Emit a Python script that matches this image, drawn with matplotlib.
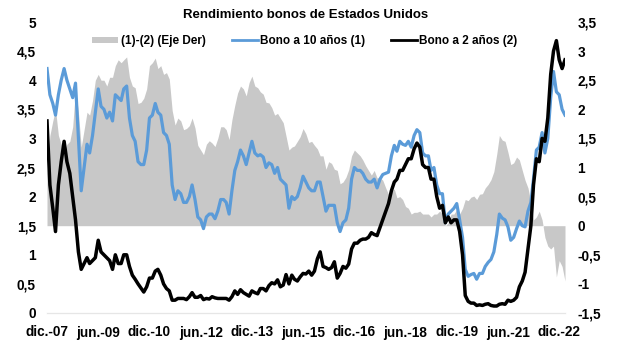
import numpy as np
import pandas as pd
import matplotlib
matplotlib.use("Agg")
import matplotlib.pyplot as plt
from matplotlib.patches import Patch
from matplotlib.lines import Line2D

plt.rcParams['font.family'] = ['Liberation Sans', 'DejaVu Sans']

# monthly readings, dic.-07 .. feb.-23
dates = pd.date_range("2007-12-01", periods=183, freq="MS")

bono_10 = [
    4.20,
    3.75, 3.60, 3.40, 3.75, 4.00, 4.20, 4.00, 3.85, 3.70, 3.95, 3.00, 2.10,
    2.50, 2.90, 2.75, 3.05, 3.45, 3.85, 3.55, 3.50, 3.35, 3.45, 3.30, 3.75,
    3.70, 3.65, 3.85, 3.90, 3.35, 3.05, 2.95, 2.60, 2.55, 2.55, 2.80, 3.35,
    3.40, 3.60, 3.45, 3.40, 3.10, 3.05, 2.90, 2.20, 1.95, 2.10, 2.05, 1.90,
    1.90, 2.00, 2.20, 1.95, 1.65, 1.60, 1.45, 1.65, 1.70, 1.70, 1.62, 1.75,
    1.95, 1.95, 1.90, 1.70, 2.10, 2.45, 2.60, 2.80, 2.70, 2.55, 2.75, 2.95,
    2.75, 2.70, 2.72, 2.68, 2.50, 2.58, 2.55, 2.40, 2.50, 2.30, 2.25, 2.20,
    1.80, 2.00, 1.95, 2.00, 2.15, 2.35, 2.25, 2.15, 2.10, 2.10, 2.25, 2.25,
    2.00, 1.75, 1.85, 1.85, 1.85, 1.55, 1.40, 1.55, 1.60, 1.80, 2.30, 2.50,
    2.45, 2.45, 2.40, 2.30, 2.25, 2.25, 2.30, 2.15, 2.30, 2.38, 2.40, 2.42,
    2.70, 2.88, 2.78, 2.95, 2.90, 2.88, 2.95, 2.85, 3.05, 3.15, 3.10, 2.75,
    2.70, 2.70, 2.45, 2.50, 2.20, 2.05, 2.05, 1.55, 1.70, 1.75, 1.80, 1.88,
    1.60, 1.30, 0.75, 0.63, 0.66, 0.68, 0.58, 0.68, 0.68, 0.80, 0.87, 0.92,
    1.05, 1.35, 1.70, 1.63, 1.60, 1.48, 1.25, 1.30, 1.45, 1.58, 1.50, 1.48,
    1.75, 1.90, 2.30, 2.80, 2.85, 3.10, 2.75, 3.00, 3.70, 4.15, 3.80, 3.75,
    3.50, 3.40,
]

bono_2 = [
    3.30,
    2.20, 1.80, 1.40, 2.20, 2.60, 2.95, 2.60, 2.40, 2.00, 1.60, 1.05, 0.75,
    0.85, 0.95, 0.85, 0.90, 0.95, 1.25, 1.05, 1.00, 0.95, 0.90, 0.75, 1.00,
    0.85, 0.85, 1.00, 1.00, 0.80, 0.65, 0.58, 0.50, 0.43, 0.36, 0.45, 0.60,
    0.60, 0.72, 0.75, 0.65, 0.50, 0.42, 0.38, 0.22, 0.22, 0.25, 0.25, 0.25,
    0.23, 0.28, 0.35, 0.27, 0.27, 0.30, 0.23, 0.25, 0.24, 0.28, 0.26, 0.25,
    0.25, 0.25, 0.25, 0.22, 0.28, 0.38, 0.32, 0.40, 0.35, 0.32, 0.29, 0.38,
    0.35, 0.33, 0.42, 0.42, 0.38, 0.47, 0.52, 0.50, 0.57, 0.45, 0.48, 0.66,
    0.50, 0.65, 0.58, 0.55, 0.62, 0.68, 0.67, 0.72, 0.65, 0.72, 0.93, 1.05,
    0.80, 0.78, 0.75, 0.78, 0.88, 0.60, 0.68, 0.80, 0.77, 0.84, 1.10, 1.20,
    1.20, 1.25, 1.27, 1.27, 1.30, 1.38, 1.35, 1.33, 1.47, 1.60, 1.75, 1.88,
    2.10, 2.25, 2.30, 2.45, 2.45, 2.55, 2.65, 2.65, 2.82, 2.92, 2.85, 2.55,
    2.50, 2.50, 2.30, 2.30, 2.00, 1.80, 1.85, 1.55, 1.65, 1.55, 1.60, 1.60,
    1.40, 1.00, 0.30, 0.20, 0.17, 0.17, 0.13, 0.14, 0.13, 0.15, 0.16, 0.13,
    0.12, 0.12, 0.15, 0.16, 0.15, 0.22, 0.20, 0.22, 0.27, 0.45, 0.55, 0.70,
    1.10, 1.50, 2.20, 2.65, 2.60, 3.00, 2.95, 3.35, 4.10, 4.50, 4.68, 4.35,
    4.20, 4.35,
]

tick_labels = ["dic.-07", "jun.-09", "dic.-10", "jun.-12", "dic.-13", "jun.-15",
               "dic.-16", "jun.-18", "dic.-19", "jun.-21", "dic.-22"]
tick_dates = pd.date_range("2007-12-01", periods=len(tick_labels), freq="18MS")

left_ticks = np.arange(0, 5.01, 0.5)
right_ticks = np.arange(-1.5, 3.51, 0.5)

diferencial = np.array(bono_10) - np.array(bono_2)

BLUE = "#5b9bd8"
GRAY = "#c8c8c8"


def fmt(v):
    s = f"{v:g}"
    return s.replace(".", ",")


fig = plt.figure(figsize=(6.17, 3.6), dpi=100)
ax = fig.add_axes([47 / 617, 1 - 313 / 360, (565 - 47) / 617, (313 - 22) / 360])
ax2 = ax.twinx()

# spread on right axis, drawn behind the lines
ax2.fill_between(dates, 0, diferencial, color=GRAY, linewidth=0)
ax2.set_ylim(-1.5, 3.5)
ax2.set_yticks(right_ticks)
ax2.set_yticklabels([fmt(v) for v in right_ticks])

ax.plot(dates, bono_10, color=BLUE, lw=2.3)
ax.plot(dates, bono_2, color="black", lw=2.5)
ax.set_ylim(0, 5)
ax.set_yticks(left_ticks)
ax.set_yticklabels([fmt(v) for v in left_ticks])
ax.set_xlim(dates[0], dates[-1])
ax.set_xticks(tick_dates)
ax.set_xticklabels(tick_labels)

ax.set_zorder(ax2.get_zorder() + 1)
ax.patch.set_visible(False)

for a in (ax, ax2):
    for side in ("top", "left", "right"):
        a.spines[side].set_visible(False)
    a.spines["bottom"].set_color("#e6e6e6")
    a.spines["bottom"].set_linewidth(0.8)
    a.tick_params(length=0, labelsize=9.8)
    for lab in a.get_yticklabels() + a.get_xticklabels():
        lab.set_fontweight("bold")

ax.tick_params(axis="y", pad=8)
ax.tick_params(axis="x", pad=9)
ax2.tick_params(axis="y", pad=9)

handles = [
    Patch(facecolor=GRAY, edgecolor="none"),
    Line2D([], [], color=BLUE, lw=2.0),
    Line2D([], [], color="black", lw=2.0),
]
labels = ["(1)-(2) (Eje Der)", "Bono a 10 años (1)", "Bono a 2 años (2)"]
leg = ax.legend(handles, labels, ncol=3, frameon=False, loc="center",
                bbox_to_anchor=(305 / 617, 1 - 41 / 360), bbox_transform=fig.transFigure,
                handlelength=2.2, handleheight=0.4, handletextpad=0.2, columnspacing=2.2,
                prop={"size": 8.5, "weight": "bold"})

fig.text(306 / 617, 1 - 15 / 360, "Rendimiento bonos de Estados Unidos",
         ha="center", va="center", fontsize=9.5, fontweight="bold")

fig.savefig("out.png", dpi=100)
